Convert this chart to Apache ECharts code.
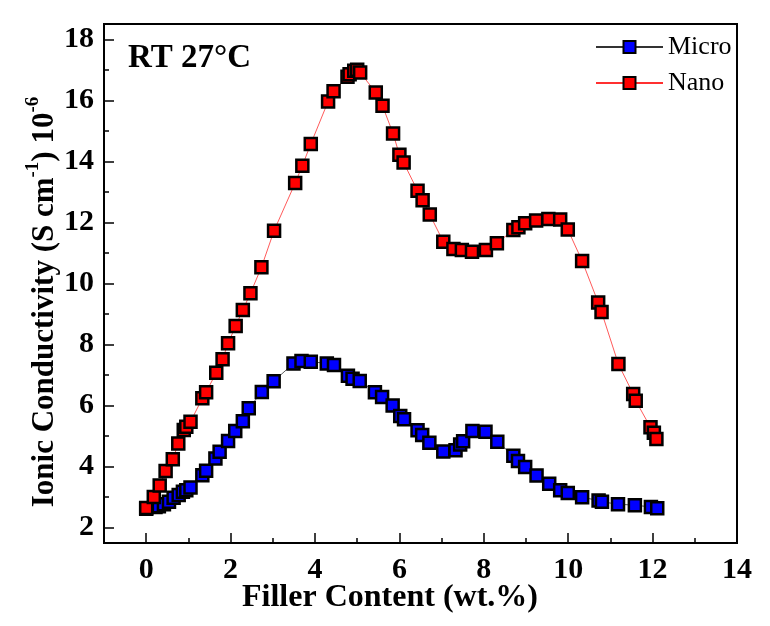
<!DOCTYPE html>
<html>
<head>
<meta charset="utf-8">
<script src="https://cdn.jsdelivr.net/npm/echarts@6/dist/echarts.min.js"></script>
<style>html,body{margin:0;padding:0;background:#fff}#c{width:770px;height:626px}</style>
</head>
<body>
<div id="c"></div>
<script>
const microX = [0.0, 0.22, 0.30, 0.42, 0.54, 0.65, 0.77, 0.87, 0.95, 1.05, 1.33, 1.42, 1.64, 1.74, 1.94, 2.11, 2.29, 2.43, 2.74, 3.02, 3.49, 3.68, 3.90, 4.28, 4.45, 4.78, 4.89, 5.06, 5.42, 5.59, 5.84, 6.02, 6.11, 6.43, 6.54, 6.71, 7.04, 7.33, 7.44, 7.51, 7.73, 8.04, 8.32, 8.70, 8.81, 8.98, 9.25, 9.55, 9.81, 9.99, 10.33, 10.72, 10.80, 11.18, 11.58, 11.96, 12.11];
const microY = [2.62, 2.68, 2.70, 2.77, 2.85, 2.98, 3.07, 3.18, 3.23, 3.32, 3.72, 3.87, 4.27, 4.49, 4.84, 5.17, 5.49, 5.91, 6.45, 6.80, 7.38, 7.46, 7.44, 7.38, 7.33, 6.98, 6.88, 6.81, 6.44, 6.28, 6.00, 5.66, 5.55, 5.19, 5.04, 4.78, 4.50, 4.54, 4.73, 4.83, 5.17, 5.14, 4.82, 4.36, 4.19, 3.99, 3.71, 3.44, 3.23, 3.14, 3.00, 2.89, 2.85, 2.77, 2.74, 2.68, 2.64];
const nanoX = [0.0, 0.18, 0.32, 0.46, 0.63, 0.76, 0.89, 0.95, 1.05, 1.33, 1.42, 1.66, 1.81, 1.94, 2.12, 2.29, 2.47, 2.73, 3.03, 3.53, 3.70, 3.90, 4.31, 4.44, 4.77, 4.82, 4.93, 5.00, 5.07, 5.44, 5.60, 5.85, 6.00, 6.10, 6.43, 6.55, 6.72, 7.04, 7.28, 7.48, 7.72, 8.05, 8.31, 8.70, 8.82, 8.98, 9.24, 9.53, 9.81, 9.99, 10.33, 10.71, 10.79, 11.19, 11.54, 11.60, 11.95, 12.03, 12.09];
const nanoY = [2.65, 3.01, 3.38, 3.86, 4.24, 4.76, 5.20, 5.31, 5.47, 6.24, 6.44, 7.08, 7.52, 8.04, 8.61, 9.13, 9.68, 10.53, 11.73, 13.29, 13.86, 14.57, 15.96, 16.30, 16.77, 16.85, 16.97, 17.00, 16.91, 16.26, 15.82, 14.91, 14.22, 13.96, 13.04, 12.73, 12.26, 11.37, 11.13, 11.10, 11.04, 11.10, 11.32, 11.75, 11.84, 11.97, 12.06, 12.11, 12.10, 11.77, 10.74, 9.38, 9.07, 7.36, 6.38, 6.16, 5.29, 5.11, 4.91];
const xTicks = [0, 2, 4, 6, 8, 10, 12, 14];
const xMinor = [1, 3, 5, 7, 9, 11, 13];
const yTicks = [2, 4, 6, 8, 10, 12, 14, 16, 18];
const yMinor = [3, 5, 7, 9, 11, 13, 15, 17];
const seriesNames = ['Micro', 'Nano'];

const FONT = '"Liberation Serif", "DejaVu Serif", serif';
const pair = (xs, ys) => xs.map((x, i) => [x, ys[i]]);

const chart = echarts.init(document.getElementById('c'), null, {renderer: 'canvas'});
const labelStyle = {fontFamily: FONT, fontWeight: 'bold', fontSize: 30, color: '#000'};

chart.setOption({
  animation: false,
  backgroundColor: '#fff',
  grid: {left: 104, right: 33, top: 24, bottom: 83, show: true, borderColor: '#000', borderWidth: 2, backgroundColor: 'transparent'},
  legend: {
    orient: 'vertical', left: 590, top: 29, itemWidth: 67, itemHeight: 15, itemGap: 10,
    data: seriesNames,
    textStyle: {fontFamily: FONT, fontSize: 26, color: '#000'}
  },
  xAxis: [
    {type: 'value', min: -1, max: 14, position: 'bottom',
      axisLine: {show: true, onZero: false, lineStyle: {color: '#000', width: 2}},
      axisTick: {show: true, inside: true, length: 10, customValues: xTicks, lineStyle: {color: '#000', width: 1.5}},
      axisLabel: Object.assign({customValues: xTicks, margin: 12}, labelStyle),
      splitLine: {show: false}
    },
    {type: 'value', min: -1, max: 14, position: 'bottom',
      axisLine: {show: false, onZero: false},
      axisTick: {show: true, inside: true, length: 5, customValues: xMinor, lineStyle: {color: '#000', width: 1.5}},
      axisLabel: {show: false}, splitLine: {show: false}
    }
  ],
  yAxis: [
    {type: 'value', min: 1.5, max: 18.5, position: 'left',
      axisLine: {show: true, onZero: false, lineStyle: {color: '#000', width: 2}},
      axisTick: {show: true, inside: true, length: 10, customValues: yTicks, lineStyle: {color: '#000', width: 1.5}},
      axisLabel: Object.assign({customValues: yTicks, margin: 10}, labelStyle),
      splitLine: {show: false}
    },
    {type: 'value', min: 1.5, max: 18.5, position: 'left',
      axisLine: {show: false, onZero: false},
      axisTick: {show: true, inside: true, length: 5, customValues: yMinor, lineStyle: {color: '#000', width: 1.5}},
      axisLabel: {show: false}, splitLine: {show: false}
    }
  ],
  graphic: [
    {type: 'text', left: 128, top: 42, style: {text: 'RT 27°C', fontFamily: FONT, fontWeight: 'bold', fontSize: 33, fill: '#000'}},
    {type: 'text', x: 390, y: 598,
      style: {text: 'Filler Content (wt.%)', fontFamily: FONT, fontWeight: 'bold', fontSize: 32, fill: '#000', align: 'center', verticalAlign: 'middle'}},
    {type: 'text', x: 42, y: 302, rotation: Math.PI / 2,
      style: {
        text: '{b|Ionic Conductivity (S cm}{s|-1}{b|) 10}{s|-6}',
        align: 'center', verticalAlign: 'middle',
        rich: {
          b: {fontFamily: FONT, fontWeight: 'bold', fontSize: 31, lineHeight: 37, fill: '#000', verticalAlign: 'bottom'},
          s: {fontFamily: FONT, fontWeight: 'bold', fontSize: 19, lineHeight: 19, fill: '#000', verticalAlign: 'top'}
        }
      }
    }
  ],
  series: [
    {name: 'Micro', type: 'line', xAxisIndex: 0, yAxisIndex: 0, data: pair(microX, microY),
      symbol: 'rect', symbolSize: 12, showAllSymbol: true,
      lineStyle: {color: '#333', width: 0.8},
      itemStyle: {color: '#0000ff', borderColor: '#000', borderWidth: 2.5}
    },
    {name: 'Nano', type: 'line', xAxisIndex: 0, yAxisIndex: 0, data: pair(nanoX, nanoY),
      symbol: 'rect', symbolSize: 12, showAllSymbol: true,
      lineStyle: {color: '#ff3030', width: 0.8},
      itemStyle: {color: '#ff0000', borderColor: '#000', borderWidth: 2.5}
    }
  ]
});
</script>
</body>
</html>
